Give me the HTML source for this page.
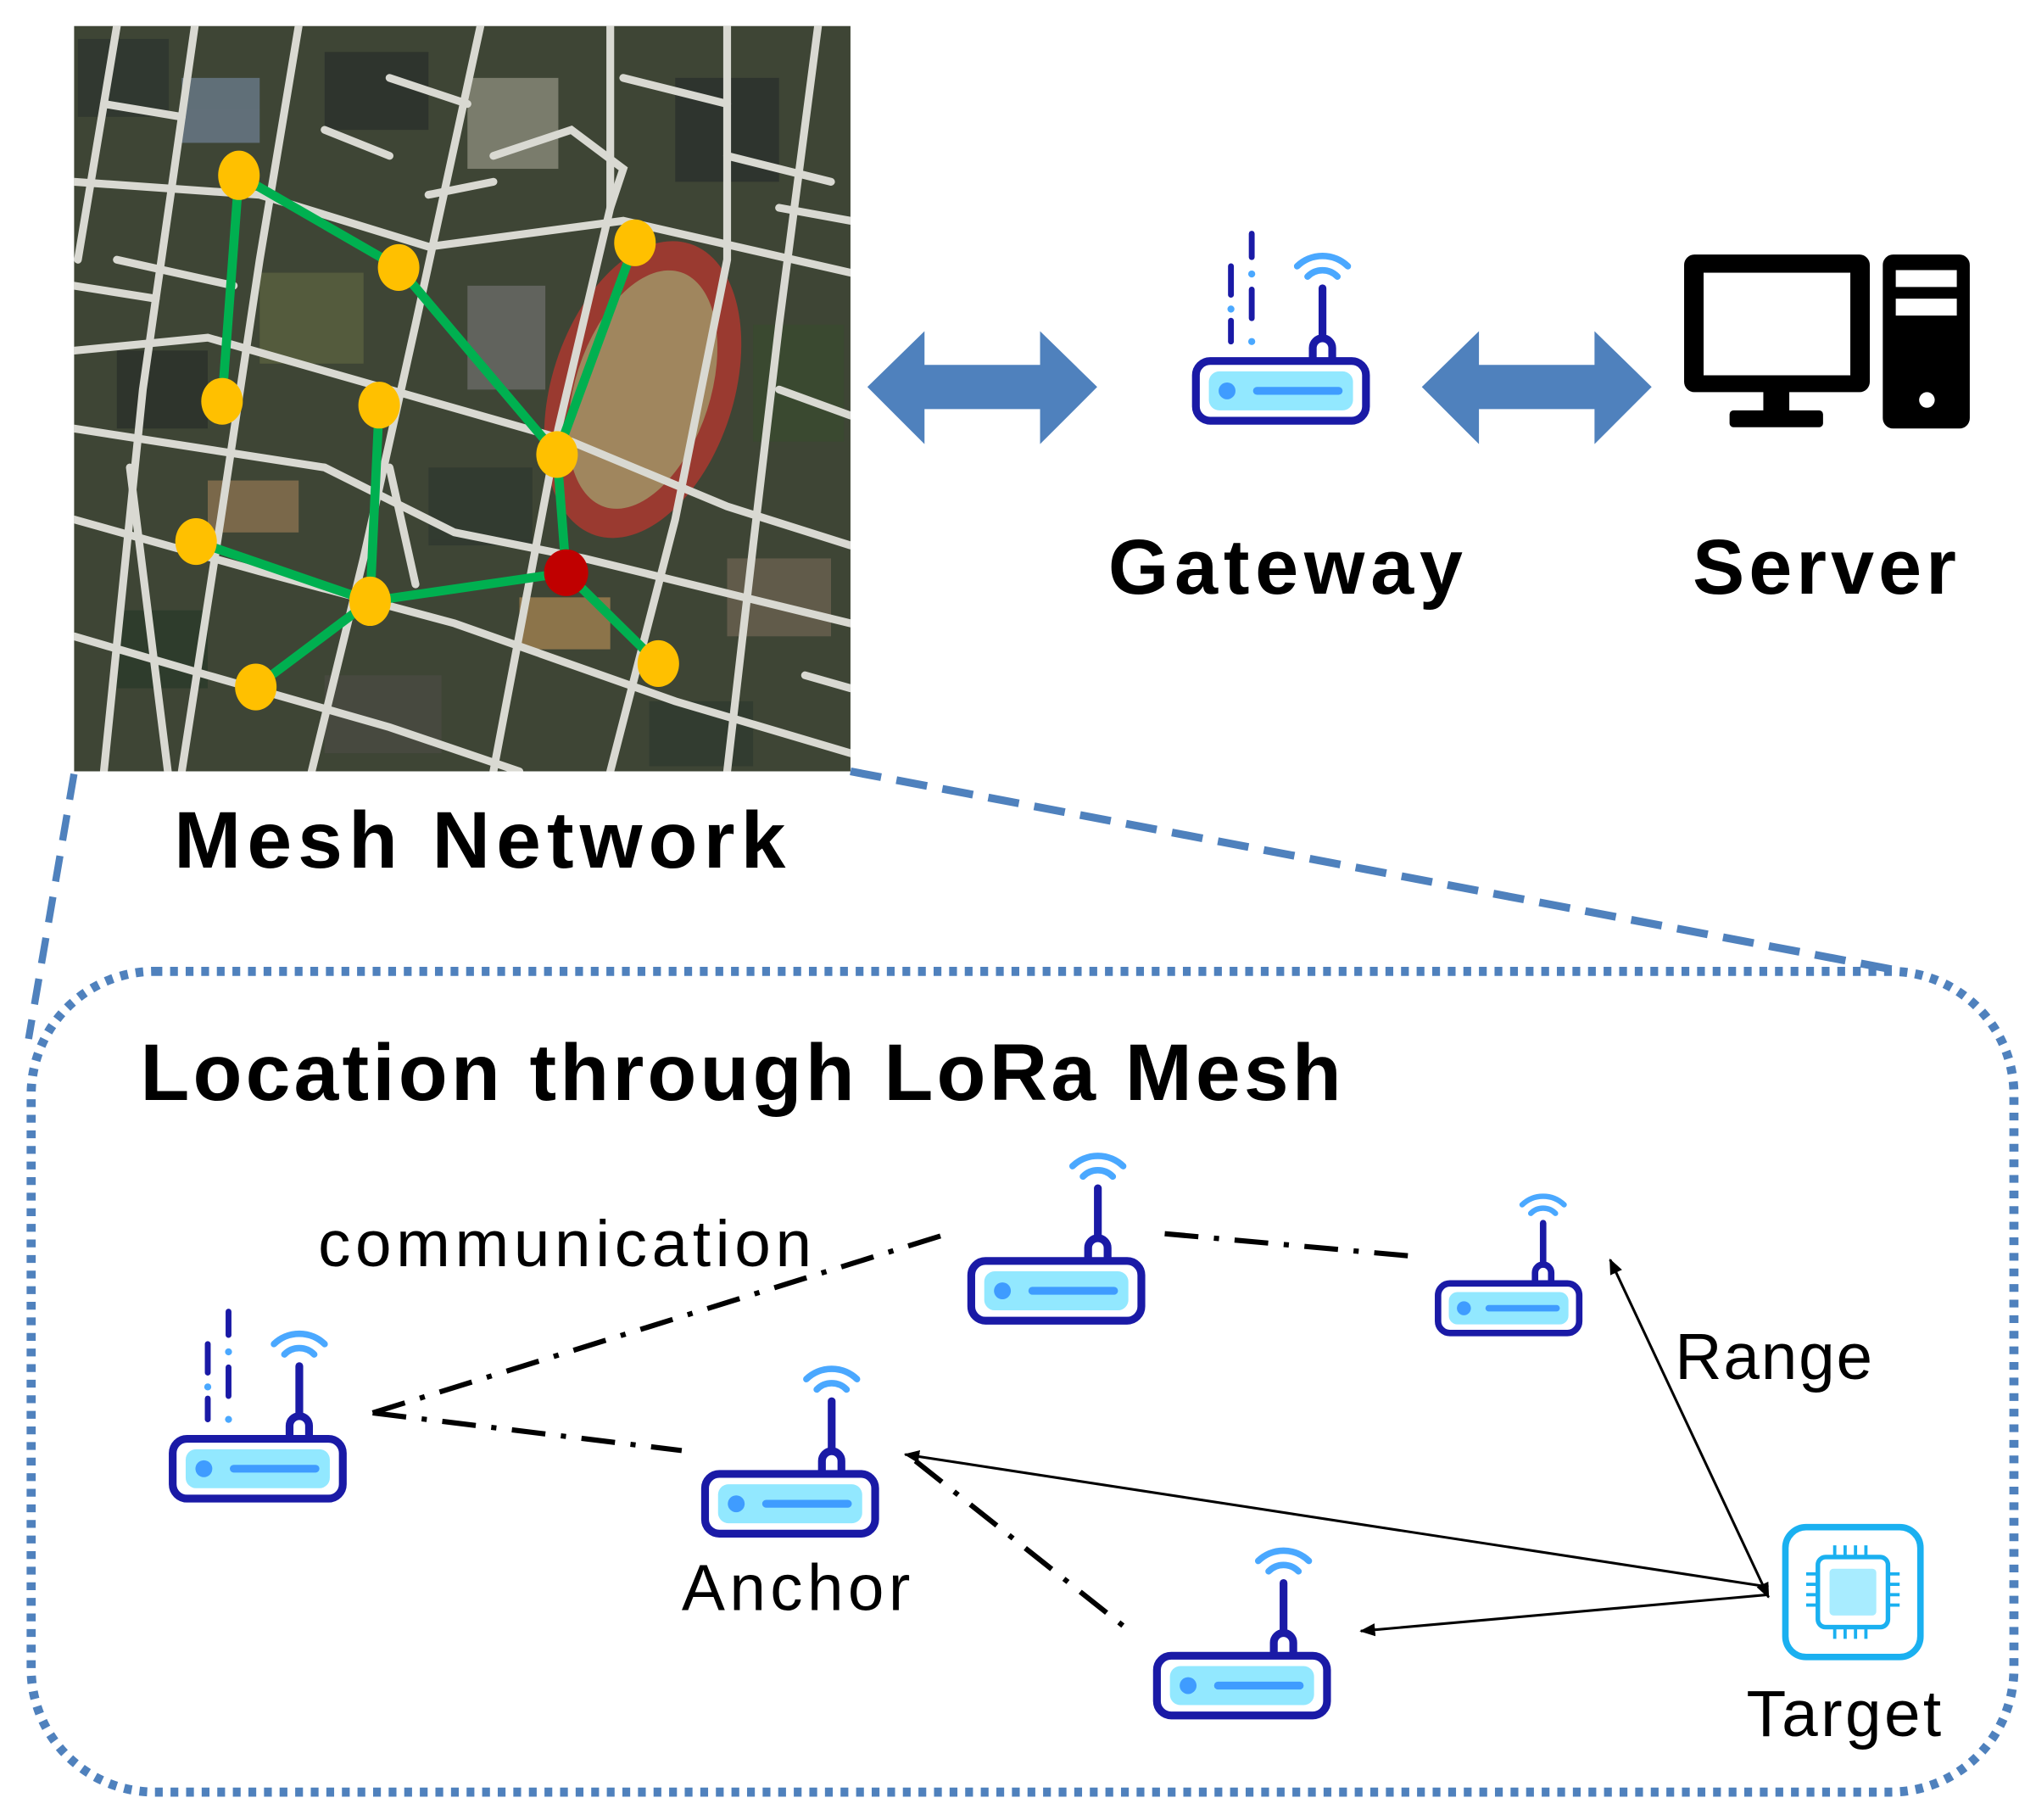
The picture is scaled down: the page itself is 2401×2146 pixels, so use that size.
<!DOCTYPE html>
<html><head><meta charset="utf-8"><style>
html,body{margin:0;padding:0;background:#fff;width:2401px;height:2146px;overflow:hidden}
svg{display:block}
text{font-family:"Liberation Sans",sans-serif}
</style></head><body>
<svg width="2401" height="2146" viewBox="0 0 1568 1401.5" preserveAspectRatio="none" xmlns="http://www.w3.org/2000/svg">
<defs>
<g id="router">
  <rect x="3" y="98" width="131" height="46" rx="11" fill="#fff" stroke="#1a1aa6" stroke-width="6"/>
  <rect x="13" y="106" width="111" height="30" rx="8" fill="#92e8ff"/>
  <circle cx="27" cy="121" r="6.5" fill="#3f9cff"/>
  <line x1="50" y1="121" x2="113" y2="121" stroke="#3f9cff" stroke-width="6" stroke-linecap="round"/>
  <path d="M93 98 V88 a7.5 7.5 0 0 1 15 0 V98" fill="none" stroke="#1a1aa6" stroke-width="6"/>
  <line x1="100.5" y1="80" x2="100.5" y2="42" stroke="#1a1aa6" stroke-width="6" stroke-linecap="round"/>
  <path d="M89 33 a16 16 0 0 1 23 0" fill="none" stroke="#4aa8ff" stroke-width="5" stroke-linecap="round"/>
  <path d="M81 25 a28 28 0 0 1 39 0" fill="none" stroke="#4aa8ff" stroke-width="5" stroke-linecap="round"/>
</g>
<g id="gwdash">
  <line x1="30" y1="28" x2="30" y2="50" stroke="#1a1aa6" stroke-width="4.5" stroke-linecap="round"/>
  <circle cx="30" cy="61" r="2.7" fill="#4aa8ff"/>
  <line x1="30" y1="70" x2="30" y2="86" stroke="#1a1aa6" stroke-width="4.5" stroke-linecap="round"/>
  <line x1="46" y1="3" x2="46" y2="21" stroke="#1a1aa6" stroke-width="4.5" stroke-linecap="round"/>
  <circle cx="46" cy="34" r="2.7" fill="#4aa8ff"/>
  <line x1="46" y1="46" x2="46" y2="68" stroke="#1a1aa6" stroke-width="4.5" stroke-linecap="round"/>
  <circle cx="46" cy="86" r="2.7" fill="#4aa8ff"/>
</g>
<clipPath id="mc"><rect x="57" y="20" width="598" height="574"/></clipPath>
<marker id="ah0" markerWidth="12" markerHeight="10" refX="11" refY="5" orient="auto-start-reverse" markerUnits="userSpaceOnUse"><path d="M0 0 L12 5 L0 10 Z" fill="#000"/></marker>
</defs>

<!-- map -->
<g clip-path="url(#mc)">
  <rect x="57" y="20" width="598" height="574" fill="#3e4535"/>
  <g opacity="0.8">
    <rect x="60" y="30" width="70" height="60" fill="#2e3530"/>
    <rect x="140" y="60" width="60" height="50" fill="#6a7a8a"/>
    <rect x="250" y="40" width="80" height="60" fill="#2a2f2c"/>
    <rect x="360" y="60" width="70" height="70" fill="#8a8a7a"/>
    <rect x="520" y="60" width="80" height="80" fill="#2b2f2d"/>
    <rect x="200" y="210" width="80" height="70" fill="#5a6040"/>
    <rect x="360" y="220" width="60" height="80" fill="#6a6a68"/>
    <rect x="90" y="270" width="70" height="60" fill="#2a302a"/>
    <rect x="160" y="370" width="70" height="40" fill="#8a7050"/>
    <rect x="330" y="360" width="80" height="60" fill="#303830"/>
    <rect x="400" y="460" width="70" height="40" fill="#a08050"/>
    <rect x="560" y="430" width="80" height="60" fill="#6a6050"/>
    <rect x="90" y="470" width="70" height="60" fill="#2b3a2a"/>
    <rect x="250" y="520" width="90" height="60" fill="#4a4a42"/>
    <rect x="500" y="540" width="80" height="50" fill="#2f3a2f"/>
    <rect x="580" y="250" width="70" height="90" fill="#3a4a30"/>
  </g>
  <ellipse cx="495" cy="300" rx="70" ry="118" transform="rotate(18 495 300)" fill="#9a3a30"/>
  <ellipse cx="495" cy="300" rx="52" ry="95" transform="rotate(18 495 300)" fill="#a0865e"/>
  <g stroke="#d9d9d2" stroke-width="6" fill="none" stroke-linecap="round">
    <path d="M57 140 L200 150 L330 190 L480 170 L655 210"/>
    <path d="M57 270 L160 260 L300 300 L440 340 L560 390 L655 420"/>
    <path d="M57 400 L200 440 L350 480 L520 540 L655 580"/>
    <path d="M57 490 L160 520 L300 560 L400 594"/>
    <path d="M90 20 L60 200 M150 20 L110 300 L80 594"/>
    <path d="M230 20 L200 200 L170 400 L140 594"/>
    <path d="M370 20 L320 250 L280 430 L240 594"/>
    <path d="M470 20 L470 160 L430 330 L380 594"/>
    <path d="M560 20 L560 200 L520 400 L470 594"/>
    <path d="M630 20 L600 250 L580 420 L560 594"/>
    <path d="M57 330 L250 360 L350 410 L450 430 L655 480"/>
    <path d="M380 120 L440 100 L480 130 L470 160"/>
    <path d="M300 60 L360 80 M480 60 L560 80 M560 120 L640 140 M600 300 L655 320"/>
    <path d="M80 80 L140 90 M90 200 L180 220 M100 360 L130 600"/>
    <path d="M57 220 L120 230 M250 100 L300 120 M330 150 L380 140 M600 160 L655 170 M620 520 L655 530 M300 360 L320 450"/>
  </g>
  <g stroke="#00b050" stroke-width="7" stroke-linecap="round">
    <line x1="184" y1="135" x2="307" y2="206"/>
    <line x1="184" y1="135" x2="171" y2="309"/>
    <line x1="307" y1="206" x2="429" y2="350"/>
    <line x1="489" y1="187" x2="429" y2="350"/>
    <line x1="429" y1="350" x2="436" y2="441"/>
    <line x1="292" y1="312" x2="285" y2="463"/>
    <line x1="151" y1="417" x2="285" y2="463"/>
    <line x1="285" y1="463" x2="436" y2="441"/>
    <line x1="285" y1="463" x2="197" y2="529"/>
    <line x1="436" y1="441" x2="507" y2="511"/>
  </g>
  <g fill="#ffc000">
    <ellipse cx="184" cy="135" rx="16" ry="19"/>
    <ellipse cx="307" cy="206" rx="16" ry="18"/>
    <ellipse cx="489" cy="187" rx="16" ry="18"/>
    <ellipse cx="171" cy="309" rx="16" ry="18"/>
    <ellipse cx="292" cy="312" rx="16" ry="18"/>
    <ellipse cx="429" cy="350" rx="16" ry="18"/>
    <ellipse cx="151" cy="417" rx="16" ry="18"/>
    <ellipse cx="285" cy="463" rx="16" ry="19"/>
    <ellipse cx="197" cy="529" rx="16" ry="18"/>
    <ellipse cx="507" cy="511" rx="16" ry="18"/>
  </g>
  <ellipse cx="436" cy="441" rx="17" ry="18" fill="#c00000"/>
</g>

<!-- big arrows -->
<path d="M668 298 L712 255 L712 281 L801 281 L801 255 L845 298 L801 342 L801 315 L712 315 L712 342 Z" fill="#4f81bd"/>
<path d="M1095 298 L1139 255 L1139 281 L1228 281 L1228 255 L1272 298 L1228 342 L1228 315 L1139 315 L1139 342 Z" fill="#4f81bd"/>

<!-- gateway -->
<use href="#router" x="918" y="180"/>
<use href="#gwdash" x="918" y="177"/>

<!-- server -->
<rect x="1297" y="196" width="143" height="106" rx="8" fill="#000"/>
<rect x="1312" y="210" width="113" height="79" fill="#fff"/>
<rect x="1358" y="300" width="20" height="18" fill="#000"/>
<rect x="1332" y="316" width="72" height="13" rx="3" fill="#000"/>
<rect x="1450" y="196" width="67" height="134" rx="8" fill="#000"/>
<rect x="1460" y="208" width="47" height="13" fill="#fff"/>
<rect x="1460" y="230" width="47" height="13" fill="#fff"/>
<circle cx="1484" cy="308" r="6" fill="#fff"/>

<text x="990" y="457" font-size="60" font-weight="bold" text-anchor="middle" textLength="273">Gateway</text>
<text x="1405" y="457" font-size="60" font-weight="bold" text-anchor="middle" textLength="203">Server</text>
<text x="134" y="668" font-size="62" font-weight="bold" textLength="471">Mesh Network</text>

<!-- dashed zoom lines -->
<line x1="57" y1="596" x2="22" y2="800" stroke="#4f81bd" stroke-width="5.5" stroke-dasharray="20 12"/>
<line x1="655" y1="594" x2="1465" y2="748" stroke="#4f81bd" stroke-width="6" stroke-dasharray="24 12"/>

<!-- dotted box -->
<rect x="24" y="748" width="1527" height="632" rx="95" fill="none" stroke="#4f81bd" stroke-width="7" stroke-dasharray="6 6"/>

<text x="108" y="847" font-size="62" font-weight="bold" textLength="925">Location through LoRa Mesh</text>

<!-- dash-dot links -->
<g stroke="#000" stroke-width="4" stroke-dasharray="26 12 4 12" fill="none">
  <line x1="287" y1="1088" x2="730" y2="950"/>
  <line x1="287" y1="1088" x2="525" y2="1117"/>
  <line x1="897" y1="950" x2="1095" y2="968"/>
  <line x1="705" y1="1125" x2="865" y2="1252"/>
</g>

<!-- range arrows -->
<g stroke="#000" stroke-width="2" fill="none">
  <line x1="1362" y1="1222" x2="697" y2="1120" marker-end="url(#ah0)"/>
  <line x1="1362" y1="1228" x2="1048" y2="1256" marker-end="url(#ah0)"/>
  <line x1="1362" y1="1230" x2="1240" y2="970" marker-end="url(#ah0)" marker-start="url(#ah0)"/>
</g>

<!-- routers -->
<use href="#router" x="130" y="1010"/>
<use href="#gwdash" x="130" y="1007"/>
<use href="#router" x="745" y="873"/>
<use href="#router" x="540" y="1037"/>
<use href="#router" x="888" y="1177"/>
<g transform="translate(1105 907) scale(0.83)"><use href="#router"/></g>

<!-- target chip -->
<rect x="1375" y="1176" width="104" height="100" rx="16" fill="#fff" stroke="#1ab0f0" stroke-width="5"/>
<rect x="1400" y="1199" width="54" height="54" rx="6" fill="#fff" stroke="#1ab0f0" stroke-width="3.5"/>
<rect x="1409" y="1208" width="36" height="36" rx="3" fill="#a8ecff"/>
<g stroke="#1ab0f0" stroke-width="2.5">
  <line x1="1413" y1="1190" x2="1413" y2="1199"/><line x1="1421" y1="1190" x2="1421" y2="1199"/><line x1="1429" y1="1190" x2="1429" y2="1199"/><line x1="1437" y1="1190" x2="1437" y2="1199"/>
  <line x1="1413" y1="1253" x2="1413" y2="1262"/><line x1="1421" y1="1253" x2="1421" y2="1262"/><line x1="1429" y1="1253" x2="1429" y2="1262"/><line x1="1437" y1="1253" x2="1437" y2="1262"/>
  <line x1="1391" y1="1212" x2="1400" y2="1212"/><line x1="1391" y1="1220" x2="1400" y2="1220"/><line x1="1391" y1="1228" x2="1400" y2="1228"/><line x1="1391" y1="1236" x2="1400" y2="1236"/>
  <line x1="1454" y1="1212" x2="1463" y2="1212"/><line x1="1454" y1="1220" x2="1463" y2="1220"/><line x1="1454" y1="1228" x2="1463" y2="1228"/><line x1="1454" y1="1236" x2="1463" y2="1236"/>
</g>

<text x="245" y="975" font-size="50" textLength="380">communication</text>
<text x="1290" y="1062" font-size="50" textLength="152">Range</text>
<text x="525" y="1240" font-size="50" textLength="176">Anchor</text>
<text x="1345" y="1337" font-size="50" textLength="150">Target</text>
</svg>
</body></html>
